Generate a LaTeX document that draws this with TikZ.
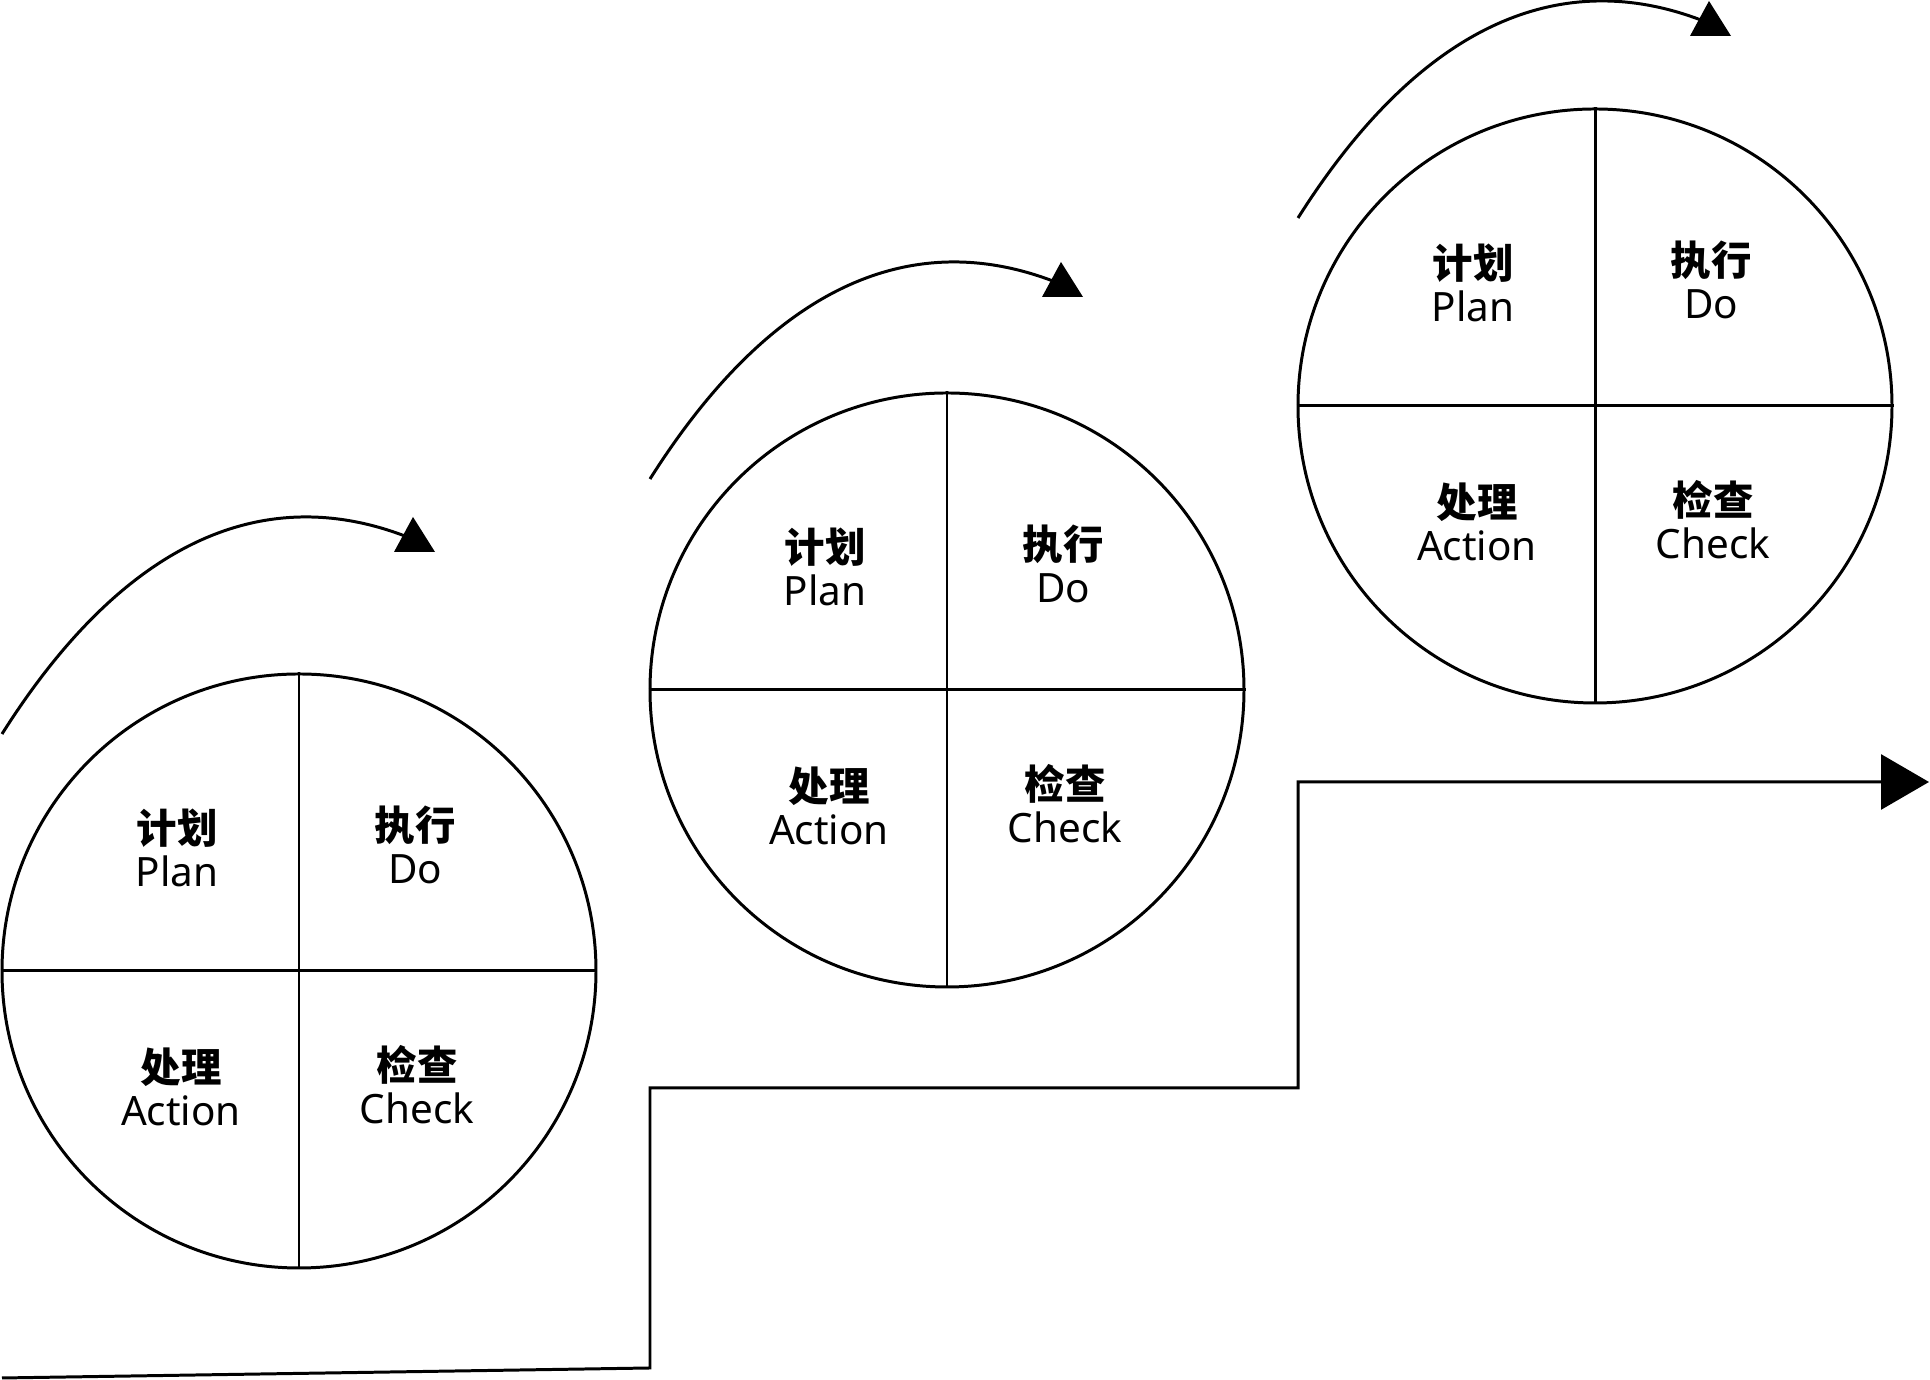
\documentclass[tikz,border=0pt]{standalone}
\usepackage{fontspec}
\setmainfont{Noto Sans}
\newfontfamily\cjk{Noto Sans CJK SC}
\usetikzlibrary{arrows.meta, positioning}

\begin{document}
\begin{tikzpicture}[line width=0.85pt,
  >={Triangle[length=4.8mm, width=5.5mm]},
  wheel/.style={draw, circle, minimum size=5.94cm, inner sep=0pt},
  quad/.style={align=center, inner sep=0pt,
               font=\fontsize{11.5}{12.3}\selectfont}]

\useasboundingbox (0,0) rectangle (19.3,13.8);

% First wheel
\begin{scope}[shift={(2.99,4.09)}]
\node[wheel] (w1) at (0,0) {};
\draw (w1.north) -- (w1.south);
\draw (w1.west) -- (w1.east);
\node[quad] (plan1) at (-1.22,1.23) {{\cjk\bfseries 计划}\\Plan};
\node[quad] (do1) at (1.16,1.26) {{\cjk\bfseries 执行}\\Do};
\node[quad] (act1) at (-1.18,-1.16) {{\cjk\bfseries 处理}\\Action};
\node[quad] (chk1) at (1.18,-1.14) {{\cjk\bfseries 检查}\\Check};
\end{scope}

% Second wheel
\begin{scope}[shift={(9.47,6.90)}]
\node[wheel] (w2) at (0,0) {};
\draw (w2.north) -- (w2.south);
\draw (w2.west) -- (w2.east);
\node[quad] (plan2) at (-1.22,1.23) {{\cjk\bfseries 计划}\\Plan};
\node[quad] (do2) at (1.16,1.26) {{\cjk\bfseries 执行}\\Do};
\node[quad] (act2) at (-1.18,-1.16) {{\cjk\bfseries 处理}\\Action};
\node[quad] (chk2) at (1.18,-1.14) {{\cjk\bfseries 检查}\\Check};
\end{scope}

% Third wheel
\begin{scope}[shift={(15.95,9.74)}]
\node[wheel] (w3) at (0,0) {};
\draw (w3.north) -- (w3.south);
\draw (w3.west) -- (w3.east);
\node[quad] (plan3) at (-1.22,1.23) {{\cjk\bfseries 计划}\\Plan};
\node[quad] (do3) at (1.16,1.26) {{\cjk\bfseries 执行}\\Do};
\node[quad] (act3) at (-1.18,-1.16) {{\cjk\bfseries 处理}\\Action};
\node[quad] (chk3) at (1.18,-1.14) {{\cjk\bfseries 检查}\\Check};
\end{scope}

% Turning arcs
\coordinate (s1) at (0.02,6.46);
\coordinate (s2) at (6.50,9.01);
\coordinate (s3) at (12.98,11.62);
\draw (s1) .. controls +(1.2,1.9) and +(-1.48,0.59) .. ++(4.08,1.96) coordinate (e1);
\draw (s2) .. controls +(1.2,1.9) and +(-1.48,0.59) .. ++(4.08,1.96) coordinate (e2);
\draw (s3) .. controls +(1.2,1.9) and +(-1.48,0.59) .. ++(4.08,1.96) coordinate (e3);
\fill (e1) ++(0.03,0.21) -- ++(-0.19,-0.35) -- ++(0.41,0) -- cycle;
\fill (e2) ++(0.03,0.21) -- ++(-0.19,-0.35) -- ++(0.41,0) -- cycle;
\fill (e3) ++(0.03,0.21) -- ++(-0.19,-0.35) -- ++(0.41,0) -- cycle;

% Stairs
\coordinate (base) at (0.02,0.02);
\coordinate (goal) at (19.29,5.98);
\draw[->] (base) -- (6.50,0.12) -- (6.50,2.92) -- (12.98,2.92)
  -- (12.98,5.98) -- (goal);

\end{tikzpicture}
\end{document}
